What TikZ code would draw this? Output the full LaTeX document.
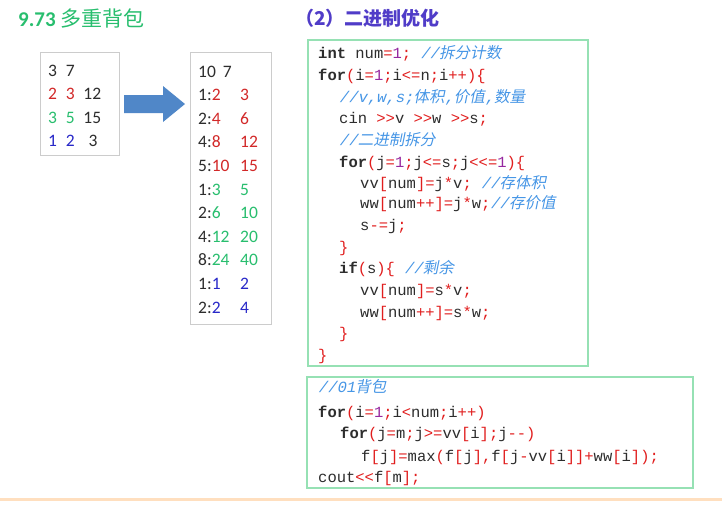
\documentclass[tikz,border=0pt]{standalone}
\usepackage{fontspec}
\setmainfont{Carlito}
\setmonofont{Liberation Mono}
\newfontfamily\cjk{Noto Sans CJK SC}
\newfontfamily\cjkit{Noto Sans CJK SC}[FakeSlant=0.2]
\newfontfamily\monoit{Liberation Mono}[FakeSlant=0.2]
\definecolor{tgreen}{RGB}{40,190,110}
\definecolor{tblue}{RGB}{80,60,200}
\definecolor{cred}{RGB}{225,30,30}
\definecolor{cnum}{RGB}{150,40,160}
\definecolor{ccom}{RGB}{70,150,230}
\definecolor{cblk}{RGB}{45,45,45}
\definecolor{nred}{RGB}{210,40,40}
\definecolor{ngreen}{RGB}{40,190,110}
\definecolor{nblue}{RGB}{40,40,200}
\definecolor{boxg}{RGB}{150,225,180}
\definecolor{arrc}{RGB}{80,135,200}
\newcommand\Rd[1]{\textcolor{cred}{#1}}
\newcommand\Nm[1]{\textcolor{cnum}{#1}}
\newcommand\Kw[1]{\textbf{#1}}
\newcommand\Cm[1]{\textcolor{ccom}{#1}}
\newcommand\Ci[1]{{\monoit #1}}
\newcommand\Cc[1]{{\cjkit #1}}
\begin{document}
\begin{tikzpicture}[x=1pt,y=-1pt,
  code/.style={anchor=base west,inner sep=0,font=\ttfamily\fontsize{15.5}{15.5}\selectfont,text=cblk},
  num/.style={anchor=base west,inner sep=0,font=\fontsize{17.5}{17.5}\selectfont,text=cblk},
  gbox/.style={draw=boxg,line width=1.2pt},
  pbox/.style={draw=black!20,line width=0.8pt}]
\useasboundingbox (0,0) rectangle (722,504);
\fill[white] (0,0) rectangle (722,504);
\node[anchor=base west,inner sep=0,text=tgreen,font=\fontsize{21}{21}\selectfont] (title) at (18,26) {\textbf{9.73} {\cjk 多重背包}};
\node[anchor=base west,inner sep=0,text=tblue,font=\bfseries\cjk\fontsize{19}{19}\selectfont] (sub) at (295,25) {（2）二进制优化};
% left box
\draw[pbox] (40,52) rectangle (119,155);
\node[num] (l1) at (48,76) {3\hspace{0.5em}7};
\node[num] (l2) at (48,99) {\textcolor{nred}{2\hspace{0.5em}3}\hspace{0.5em}12};
\node[num] (l3) at (48,123) {\textcolor{ngreen}{3\hspace{0.5em}5}\hspace{0.5em}15};
\node[num] (l4) at (48,146) {\textcolor{nblue}{1\hspace{0.5em}2}\hspace{0.8em}3};
% arrow
\fill[arrc] (124,95) -- (163,95) -- (163,86) -- (185,104) -- (163,122) -- (163,113) -- (124,113) -- cycle;
% right box
\draw[pbox] (190,52) rectangle (271,324);
\foreach \a/\b/\c/\col [count=\i] in {{}/10/7/cblk,1:/2/3/nred,2:/4/6/nred,4:/8/12/nred,5:/10/15/nred,1:/3/5/ngreen,2:/6/10/ngreen,4:/12/20/ngreen,8:/24/40/ngreen,1:/1/2/nblue,2:/2/4/nblue}{
  \pgfmathsetmacro\yy{77+23.6*(\i-1)}
  \ifnum\i=1
   \node[num] (r\i) at (198,\yy) {10\hspace{0.4em}7};
  \else
   \node[num] (r\i) at (198,\yy) {\a\textcolor{\col}{\b}};
   \node[num,text=\col] (rr\i) at (240,\yy) {\c};
  \fi
}
% code box 1
\draw[gbox] (308,40) rectangle (588,366);
\node[code] (c1) at (318,58) {\Kw{int} num\Rd{=}\Nm{1}\Rd{;} \Cm{\Ci{//}\Cc{拆分计数}}};
\node[code] (c2) at (318,80) {\Kw{for}\Rd{(}i\Rd{=}\Nm{1}\Rd{;}i\Rd{<=}n\Rd{;}i\Rd{++)\{}};
\node[code] (c3) at (339,102) {\Cm{\Ci{//v,w,s;}\Cc{体积}\Ci{,}\Cc{价值}\Ci{,}\Cc{数量}}};
\node[code] (c4) at (339,123) {cin \Rd{>>}v \Rd{>>}w \Rd{>>}s\Rd{;}};
\node[code] (c5) at (339,145) {\Cm{\Ci{//}\Cc{二进制拆分}}};
\node[code] (c6) at (339,167) {\Kw{for}\Rd{(}j\Rd{=}\Nm{1}\Rd{;}j\Rd{<=}s\Rd{;}j\Rd{<<=}\Nm{1}\Rd{)\{}};
\node[code] (c7) at (360,188) {vv\Rd{[}num\Rd{]=}j\Rd{*}v\Rd{;} \Cm{\Ci{//}\Cc{存体积}}};
\node[code] (c8) at (360,208) {ww\Rd{[}num\Rd{++]=}j\Rd{*}w\Rd{;}\Cm{\Ci{//}\Cc{存价值}}};
\node[code] (c9) at (360,230) {s\Rd{-=}j\Rd{;}};
\node[code] (c10) at (339,252) {\Rd{\}}};
\node[code] (c11) at (339,273) {\Kw{if}\Rd{(}s\Rd{)\{} \Cm{\Ci{//}\Cc{剩余}}};
\node[code] (c12) at (360,295) {vv\Rd{[}num\Rd{]=}s\Rd{*}v\Rd{;}};
\node[code] (c13) at (360,317) {ww\Rd{[}num\Rd{++]=}s\Rd{*}w\Rd{;}};
\node[code] (c14) at (339,338) {\Rd{\}}};
\node[code] (c15) at (318,360) {\Rd{\}}};
% code box 2
\draw[gbox] (307,377) rectangle (693,488);
\node[code] (d1) at (318,392) {\Cm{\Ci{//01}\Cc{背包}}};
\node[code] (d2) at (318,417) {\Kw{for}\Rd{(}i\Rd{=}\Nm{1}\Rd{;}i\Rd{<}num\Rd{;}i\Rd{++)}};
\node[code] (d3) at (340,438) {\Kw{for}\Rd{(}j\Rd{=}m\Rd{;}j\Rd{>=}vv\Rd{[}i\Rd{];}j\Rd{--)}};
\node[code] (d4) at (361,461) {f\Rd{[}j\Rd{]=}max\Rd{(}f\Rd{[}j\Rd{],}f\Rd{[}j\Rd{-}vv\Rd{[}i\Rd{]]+}ww\Rd{[}i\Rd{]);}};
\node[code] (d5) at (318,482) {cout\Rd{<<}f\Rd{[}m\Rd{];}};
% bottom line
\fill[orange!25] (0,498) rectangle (722,501);
\end{tikzpicture}
\end{document}
